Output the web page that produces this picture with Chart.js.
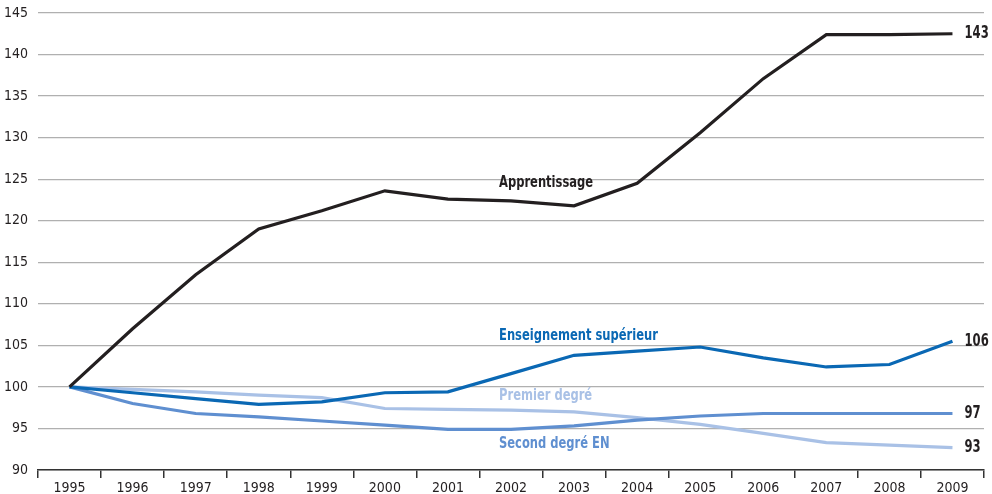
<!DOCTYPE html>
<html lang="fr">
<head>
<meta charset="UTF-8">
<title>Indices 1995-2009</title>
<script src="https://cdn.jsdelivr.net/npm/chart.js@4.4.1"></script>
<style>
  html,body{margin:0;padding:0;background:#fff;}
  .wrap{position:relative;width:992px;height:494px;}
</style>
</head>
<body>
<div class="wrap"><canvas id="chart"></canvas></div>
<script>
// data (index, 1995 = 100)
const years = ['1995','1996','1997','1998','1999','2000','2001','2002','2003','2004','2005','2006','2007','2008','2009'];
const apprentissage = [100,107,113.5,119,121.2,123.6,122.6,122.4,121.8,124.5,130.6,137.1,142.4,142.4,142.5];
const superieur     = [100,99.3,98.6,97.9,98.2,99.3,99.4,101.6,103.8,104.3,104.8,103.5,102.4,102.7,105.5];
const premier       = [100,99.7,99.4,99.0,98.7,97.4,97.3,97.2,97.0,96.3,95.5,94.4,93.3,93.0,92.7];
const second        = [100,98.0,96.8,96.4,95.9,95.4,94.9,94.9,95.3,96.0,96.5,96.8,96.8,96.8,96.8];
const yTicks = [90,95,100,105,110,115,120,125,130,135,140,145];
const endLabels = ['143','106','97','93'];

const FONT = '"Liberation Sans Narrow","DejaVu Sans Condensed","Roboto Condensed",sans-serif';
const C_BLACK = '#231f20', C_SUP = '#0a68b4', C_SEC = '#5f8fd0', C_PREM = '#a9c1e6';

// series name labels: [text, colour, value]; all left-aligned at the same category position
const seriesLabels = [
  ['Apprentissage', C_BLACK, 124.5],
  ['Enseignement supérieur', C_SUP, 106.2],
  ['Premier degré', C_PREM, 98.95],
  ['Second degré EN', C_SEC, 93.1]
];
const labelAt = 6.81;   // category index where the series names start

// condensed text: squeeze horizontally
function narrowText(ctx, t, x, y, sx){
  ctx.save();
  ctx.translate(x, y);
  ctx.scale(sx, 1);
  ctx.fillText(t, 0, 0);
  ctx.restore();
}

const labelPlugin = {
  id:'labels',
  afterDatasetsDraw(chart){
    const {ctx, scales:{x,y}} = chart;
    ctx.save();
    ctx.textBaseline = 'middle';
    ctx.textAlign = 'left';
    const step = x.getPixelForValue(1) - x.getPixelForValue(0);
    const lx = x.getPixelForValue(0) + labelAt*step;
    ctx.font = 'bold 16px ' + FONT;
    seriesLabels.forEach(([t,c,v])=>{
      ctx.fillStyle = c;
      narrowText(ctx, t, lx, y.getPixelForValue(v), 0.8);
    });
    ctx.fillStyle = C_BLACK;
    ctx.font = 'bold 17px ' + FONT;
    chart.data.datasets.forEach((ds,k)=>{
      const last = ds.data.length-1;
      narrowText(ctx, endLabels[k], x.getPixelForValue(last)+12, y.getPixelForValue(ds.data[last]), 0.76);
    });
    ctx.restore();
  }
};

const line = (data,color)=>({data,borderColor:color,borderWidth:3.2,pointRadius:0,tension:0,fill:false});

new Chart(document.getElementById('chart'),{
  type:'line',
  data:{labels:years,datasets:[
    line(apprentissage,C_BLACK),
    line(superieur,C_SUP),
    line(second,C_SEC),
    line(premier,C_PREM)
  ]},
  options:{
    responsive:true,maintainAspectRatio:false,animation:false,
    layout:{padding:{top:13,right:8,left:0,bottom:0}},
    plugins:{legend:{display:false},tooltip:{enabled:false}},
    scales:{
      x:{
        offset:true,
        grid:{offset:true,drawOnChartArea:false,tickLength:8,color:'#333',lineWidth:1.5},
        border:{color:'#333',width:1.5},
        ticks:{color:C_BLACK,font:{family:FONT,size:14},padding:2,maxRotation:0,autoSkip:false},
        afterFit(s){s.height=24;s.paddingLeft=0;s.paddingRight=0;}
      },
      y:{
        min:90,max:145,
        afterBuildTicks(s){s.ticks=yTicks.map(v=>({value:v}));},
        grid:{color:'#b0b0b0',lineWidth:1.2,tickLength:0,drawTicks:false},
        border:{display:false},
        ticks:{color:C_BLACK,font:{family:FONT,size:14},padding:10},
        afterFit(s){s.width=38;s.paddingTop=0;s.paddingBottom=0;}
      }
    }
  },
  plugins:[labelPlugin]
});
</script>
</body>
</html>
